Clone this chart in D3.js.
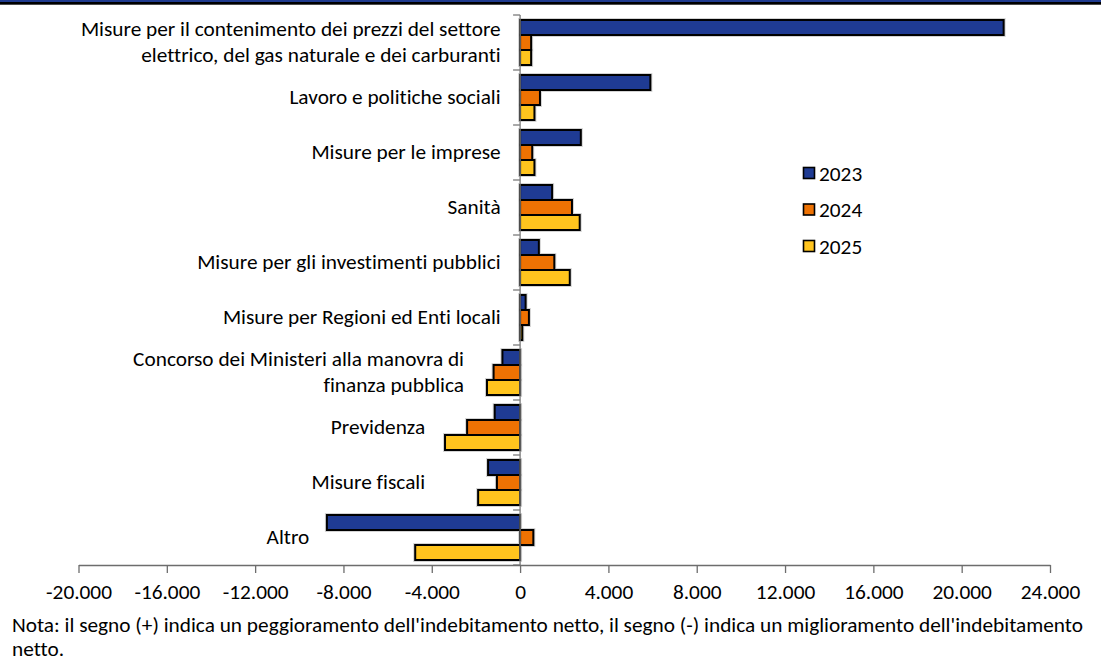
<!DOCTYPE html>
<html>
<head>
<meta charset="utf-8">
<script src="https://cdn.jsdelivr.net/npm/d3@7"></script>
<style>
  html, body { margin: 0; padding: 0; background: #fff; }
  svg { display: block; }
  text { font-family: Carlito, Calibri, "Open Sans", "Liberation Sans", sans-serif; fill: #000; font-variant-ligatures: none; }
</style>
</head>
<body>
<svg id="chart" width="1101" height="663"></svg>
<script>
// Categories (each entry is a list of label lines)
const categories = [
  ["Misure per il contenimento dei prezzi del settore", "elettrico, del gas naturale e dei carburanti"],
  ["Lavoro e politiche sociali"],
  ["Misure per le imprese"],
  ["Sanità"],
  ["Misure per gli investimenti pubblici"],
  ["Misure per Regioni ed Enti locali"],
  ["Concorso dei Ministeri alla manovra di", "finanza pubblica"],
  ["Previdenza"],
  ["Misure fiscali"],
  ["Altro"]
];

// Effects on net borrowing (milioni di euro)
const series = ["2023", "2024", "2025"];
const values2023 = [21900, 5900, 2750, 1450, 850, 250, -800, -1150, -1450, -8750];
const values2024 = [500, 900, 550, 2350, 1550, 400, -1200, -2400, -1050, 600];
const values2025 = [500, 650, 650, 2700, 2250, 100, -1500, -3400, -1900, -4750];

// Axis ticks
const xTicks = [-20000, -16000, -12000, -8000, -4000, 0, 4000, 8000, 12000, 16000, 20000, 24000];

// Value at which each category label ends (labels sit left of negative bars)
const labelEndValues = [-880, -880, -880, -880, -880, -880, -2540, -4300, -4300, -9550];

const noteLines = [
  "Nota: il segno (+) indica un peggioramento dell'indebitamento netto, il segno (-) indica un miglioramento dell'indebitamento",
  "netto."
];

const colors = ["#1f3b93", "#ee7203", "#ffc41e"];

const svg = d3.select("#chart");
const fontSize = 21.3;
const fontFamily = "Carlito, Calibri, 'Open Sans', 'Liberation Sans', sans-serif";

// Top rule
svg.append("rect").attr("x", 0).attr("y", 0).attr("width", 1101).attr("height", 2).attr("fill", "#1f3b8f");
svg.append("rect").attr("x", 0).attr("y", 2).attr("width", 1101).attr("height", 2.7).attr("fill", "#000");

const x = d3.scaleLinear().domain([-20000, 24000]).range([78.5, 1050]);
const y = d3.scaleBand().domain(d3.range(categories.length)).range([15, 565]).padding(0);
const ySub = d3.scaleBand().domain(series).range([5, y.bandwidth() - 5]).padding(0);

const rows = d3.range(categories.length).map(i => ({
  i,
  vals: [values2023[i], values2024[i], values2025[i]]
}));

const itLocale = d3.formatLocale({ decimal: ",", thousands: ".", grouping: [3], currency: ["€", ""], minus: "-" });
const fmt = itLocale.format(",d");

// Bars
const g = svg.append("g");
const groups = g.selectAll("g.cat").data(rows).join("g")
  .attr("class", "cat")
  .attr("transform", d => `translate(0,${y(d.i)})`);

const barData = d => d.vals.map((v, k) => ({ v, k, s: series[k] }));

// soft shadow beneath each bar
groups.selectAll("rect.shadow").data(barData).join("rect")
  .attr("class", "shadow")
  .attr("x", d => Math.min(x(0), x(d.v)))
  .attr("y", d => ySub(d.s))
  .attr("width", d => Math.abs(x(d.v) - x(0)))
  .attr("height", ySub.bandwidth())
  .attr("fill", "none")
  .attr("stroke", "#d4d4d4")
  .attr("stroke-width", 4);

groups.selectAll("rect.bar").data(barData).join("rect")
  .attr("class", "bar")
  .attr("x", d => Math.min(x(0), x(d.v)))
  .attr("y", d => ySub(d.s))
  .attr("width", d => Math.abs(x(d.v) - x(0)))
  .attr("height", ySub.bandwidth())
  .attr("fill", d => colors[d.k])
  .attr("stroke", "#000")
  .attr("stroke-width", 2);

// Y axis (category axis at zero)
const axisColor = "#7a7a7a";
const yAxis = svg.append("g");
yAxis.append("line")
  .attr("x1", x(0)).attr("x2", x(0))
  .attr("y1", 15).attr("y2", 565)
  .attr("stroke", axisColor).attr("stroke-width", 1.3);
yAxis.selectAll("line.tick").data(d3.range(categories.length + 1)).join("line")
  .attr("class", "tick")
  .attr("x1", x(0) - 7).attr("x2", x(0))
  .attr("y1", i => 15 + i * y.bandwidth())
  .attr("y2", i => 15 + i * y.bandwidth())
  .attr("stroke", axisColor).attr("stroke-width", 1.3);

// X axis
const xAxis = d3.axisBottom(x).tickValues(xTicks).tickFormat(fmt).tickSize(8).tickSizeOuter(0);
const xg = svg.append("g").attr("transform", "translate(0,565)").call(xAxis);
xg.select(".domain").attr("stroke", "#6d6d6d").attr("stroke-width", 1.3);
xg.selectAll(".tick line").attr("stroke", "#6d6d6d").attr("stroke-width", 1.3);
xg.selectAll(".tick text")
  .attr("y", 27).attr("dy", "0.34em")
  .style("font-family", fontFamily)
  .style("font-variant-ligatures", "none")
  .style("font-size", fontSize + "px").attr("fill", "#000");

// Category labels
const lineGap = 26;
svg.append("g").selectAll("text").data(rows).join("text")
  .attr("text-anchor", "end")
  .attr("x", d => x(labelEndValues[d.i]))
  .attr("y", d => y(d.i) + y.bandwidth() / 2)
  .style("font-size", fontSize + "px")
  .each(function (d) {
    const lines = categories[d.i];
    const t = d3.select(this);
    lines.forEach((ln, j) => {
      t.append("tspan")
        .attr("x", x(labelEndValues[d.i]))
        .attr("dy", j === 0 ? ((-(lines.length - 1) / 2) * lineGap) + 6 : lineGap)
        .text(ln);
    });
  });

// Legend
const legend = svg.append("g").attr("transform", "translate(803,173)");
const li = legend.selectAll("g").data(series).join("g")
  .attr("transform", (d, i) => `translate(0,${i * 36.5})`);
li.append("rect")
  .attr("x", 0.5).attr("y", -5.5).attr("width", 11).attr("height", 11)
  .attr("fill", (d, i) => colors[i]).attr("stroke", "#000").attr("stroke-width", 1.6);
li.append("text")
  .attr("x", 16).attr("y", 0).attr("dy", "0.36em")
  .style("font-size", fontSize + "px")
  .text(d => d);

// Note
svg.append("g").selectAll("text").data(noteLines).join("text")
  .attr("x", 12)
  .attr("y", (d, i) => 625 + i * 24)
  .attr("dy", "0.35em")
  .style("font-size", fontSize + "px")
  .text(d => d);
</script>
</body>
</html>
